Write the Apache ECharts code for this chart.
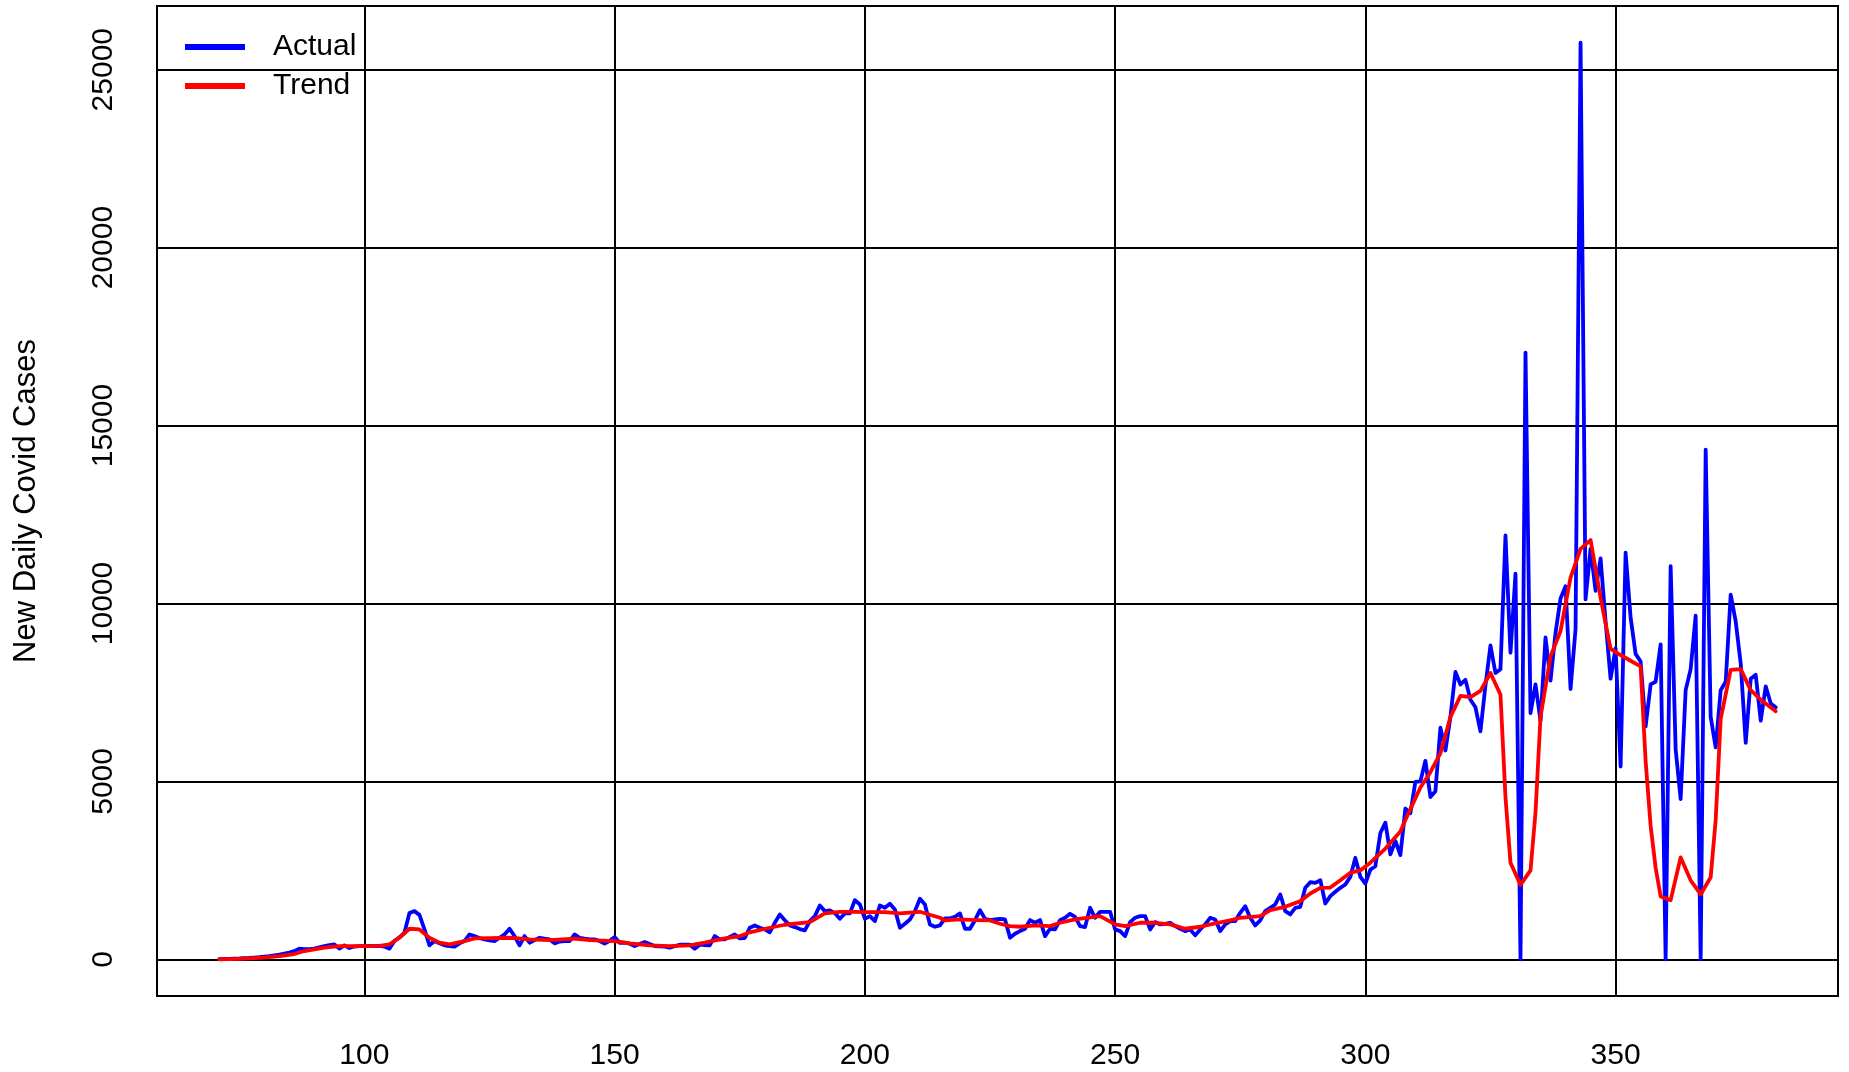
<!DOCTYPE html>
<html>
<head>
<meta charset="utf-8">
<title>New Daily Covid Cases</title>
<script src="https://cdn.jsdelivr.net/npm/echarts@6/dist/echarts.min.js"></script>
<style>
  html, body { margin: 0; padding: 0; background: #fff; }
  #chart { width: 1849px; height: 1072px; }
</style>
</head>
<body>
<div id="chart"></div>
<script>
// daily actual cases, one value per day starting at day 71
var actualStart = 71;
var actualCases = [
  5, 10, 15, 20, 25, 35, 40, 50, 60, 75,
  90, 110, 130, 160, 190, 230, 300, 290, 285, 300,
  340, 370, 400, 420, 300, 393, 318, 360, 370, 374,
  375, 372, 378, 360, 300, 514, 620, 748, 1300, 1355,
  1250, 841, 393, 514, 450, 393, 370, 355, 450, 514,
  700, 654, 600, 560, 530, 514, 607, 700, 860, 654,
  393, 654, 467, 540, 607, 580, 560, 449, 500, 514,
  514, 700, 607, 580, 560, 560, 514, 440, 520, 626,
  467, 467, 440, 374, 430, 486, 430, 374, 365, 355,
  327, 370, 411, 411, 411, 300, 411, 400, 393, 654,
  560, 560, 630, 700, 589, 600, 888, 953, 890, 841,
  760, 1028, 1262, 1100, 953, 907, 850, 813, 1075, 1215,
  1514, 1355, 1374, 1300, 1140, 1290, 1290, 1664, 1542, 1140,
  1215, 1075, 1514, 1449, 1561, 1402, 888, 1000, 1121, 1355,
  1701, 1542, 981, 916, 953, 1150, 1150, 1196, 1290, 860,
  860, 1100, 1383, 1140, 1103, 1120, 1140, 1121, 607, 720,
  794, 860, 1103, 1028, 1103, 654, 860, 841, 1100, 1168,
  1280, 1196, 935, 907, 1449, 1168, 1336, 1336, 1336, 841,
  794, 654, 1047, 1168, 1215, 1215, 841, 1047, 981, 1000,
  1028, 935, 860, 794, 841, 673, 841, 981, 1168, 1121,
  794, 981, 1075, 1075, 1308, 1495, 1168, 953, 1093, 1355,
  1449, 1542, 1822, 1355, 1262, 1449, 1477, 2009, 2168, 2150,
  2224, 1570, 1776, 1900, 2009, 2103, 2318, 2850, 2318, 2131,
  2523, 2617, 3551, 3841, 2950, 3326, 2929, 4238, 4109, 4989,
  5000, 5579, 4560, 4721, 6513, 5869, 6813, 8079, 7725, 7854,
  7296, 7082, 6406, 7700, 8820, 8047, 8155, 11910, 8616, 10837,
  0, 17050, 6921, 7725, 6706, 9045, 7833, 9174, 10140, 10483,
  7597, 9281, 25760, 10118, 11534, 10354, 11266, 9500, 7886, 8745,
  5418, 11427, 9603, 8584, 8369, 6545, 7725, 7800, 8852, 0,
  11051, 5901, 4506, 7564, 8155, 9657, 0, 14324, 6813, 5955,
  7564, 7800, 10247, 9496, 8315, 6084, 7886, 7994, 6706, 7672,
  7189, 7082
];

// trend line, as read at its bends
var trendDays = [
  71, 75, 80, 83, 86, 88, 92, 95, 100, 103,
  105, 107, 109, 111, 113, 115, 117, 120, 122, 125,
  129, 133, 137, 142, 145, 150, 153, 157, 161, 165,
  168, 172, 175, 177, 181, 184, 189, 192, 195, 198,
  200, 204, 207, 211, 215, 216, 219, 222, 225, 227,
  229, 231, 234, 237, 239, 242, 247, 250, 252, 255,
  258, 261, 264, 267, 270, 273, 275, 279, 281, 284,
  287, 289, 291, 293, 295, 297, 299, 301, 304, 307,
  308, 311, 313, 315, 317, 319, 321, 323, 325, 327,
  328, 329, 331, 333, 334, 335, 337, 339, 341, 343,
  345, 347, 349, 351, 353, 355, 356, 357, 358, 359,
  361, 363, 365, 367, 369, 370, 371, 373, 375, 377,
  379, 382
];
var trendCases = [
  0, 15, 47, 90, 150, 234, 327, 374, 374, 378,
  420, 607, 860, 841, 607, 467, 420, 514, 589, 598,
  607, 560, 542, 580, 542, 514, 450, 393, 374, 393,
  467, 589, 650, 760, 888, 972, 1047, 1290, 1336, 1336,
  1327, 1327, 1290, 1336, 1168, 1093, 1121, 1103, 1093, 1000,
  935, 916, 953, 935, 1028, 1121, 1215, 981, 935, 1028,
  1028, 981, 860, 916, 1009, 1093, 1168, 1215, 1383, 1477,
  1636, 1850, 2006, 2017, 2221, 2436, 2500, 2715, 3112, 3594,
  3916, 4828, 5258, 5794, 6813, 7403, 7371, 7543, 8047, 7436,
  4560, 2715, 2092, 2500, 4131, 6813, 8509, 9228, 10730, 11534,
  11781, 10161, 8723, 8552, 8391, 8230, 5579, 3755, 2575, 1770,
  1663, 2865, 2221, 1824, 2307, 3916, 6760, 8133, 8155, 7564,
  7296, 6974
];

var xTicks = [100, 150, 200, 250, 300, 350];
var yTicks = [0, 5000, 10000, 15000, 20000, 25000];

var actualData = actualCases.map(function (v, i) { return [actualStart + i, v]; });
var trendData = trendDays.map(function (d, i) { return [d, trendCases[i]]; });

var font = '"Liberation Sans", Arial, Helvetica, sans-serif';

var chart = echarts.init(document.getElementById('chart'));
chart.setOption({
  animation: false,
  backgroundColor: '#ffffff',
  grid: {
    left: 157, right: 11, top: 6, bottom: 76,
    show: true, borderColor: '#000', borderWidth: 2,
    outerBoundsMode: 'none'
  },
  legend: {
    orient: 'vertical',
    left: 180, top: 27,
    itemWidth: 60, itemHeight: 14, itemGap: 9,
    textStyle: { fontFamily: font, fontSize: 30, color: '#000', padding: [0, 0, 0, 23] },
    data: [
      { name: 'Actual', icon: 'path://M0,0 L10,0 L10,1 L0,1 Z' },
      { name: 'Trend', icon: 'path://M0,0 L10,0 L10,1 L0,1 Z' }
    ],
    itemStyle: { borderWidth: 0 }
  },
  xAxis: {
    type: 'value',
    min: 58.56, max: 394.44,
    axisLine: { show: false },
    axisTick: { show: false },
    splitLine: { show: true, lineStyle: { color: '#000', width: 2 } },
    axisLabel: {
      margin: 45, fontFamily: font, fontSize: 30, color: '#000',
      formatter: function (v) { return xTicks.indexOf(v) >= 0 ? String(v) : ''; }
    }
  },
  yAxis: {
    type: 'value',
    min: -1030, max: 26790,
    name: 'New Daily Covid Cases',
    nameLocation: 'middle',
    nameGap: 115,
    nameRotate: 90,
    nameTextStyle: { fontFamily: font, fontSize: 31, color: '#000' },
    axisLine: { show: false },
    axisTick: { show: false },
    splitLine: { show: true, lineStyle: { color: '#000', width: 2 } },
    axisLabel: {
      rotate: 90, margin: 38, fontFamily: font, fontSize: 30, color: '#000',
      formatter: function (v) { return yTicks.indexOf(v) >= 0 ? String(v) : ''; }
    }
  },
  series: [
    {
      name: 'Actual', type: 'line', data: actualData,
      symbol: 'none', smooth: false,
      itemStyle: { color: '#0000ff' },
      lineStyle: { color: '#0000ff', width: 3.8, cap: 'round', join: 'round' }
    },
    {
      name: 'Trend', type: 'line', data: trendData,
      symbol: 'none', smooth: false,
      itemStyle: { color: '#ff0000' },
      lineStyle: { color: '#ff0000', width: 3.8, cap: 'round', join: 'round' }
    }
  ]
});
</script>
</body>
</html>
